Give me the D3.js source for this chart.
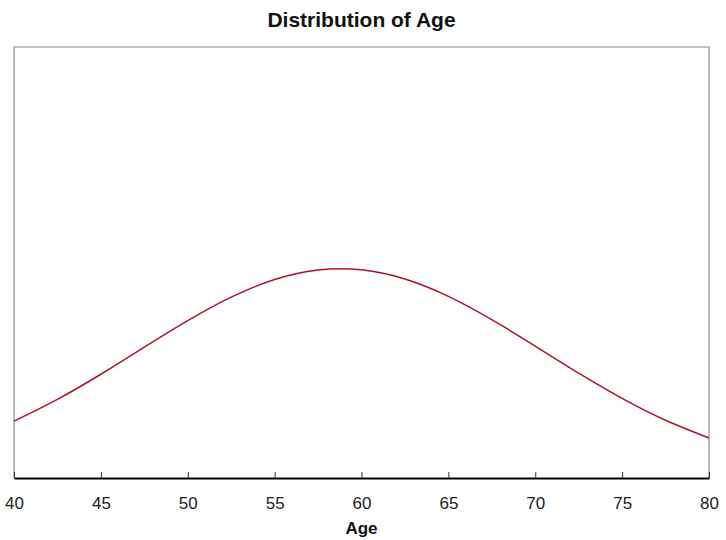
<!DOCTYPE html>
<html>
<head>
<meta charset="utf-8">
<script src="https://cdn.jsdelivr.net/npm/d3@7"></script>
<style>
  html, body { margin: 0; padding: 0; background: #fff; }
  svg { display: block; font-family: "Liberation Sans", Arial, sans-serif; }
</style>
</head>
<body>
<svg id="chart" width="726" height="540"></svg>
<script>
// values
const ages = [40, 42.5, 45, 47.5, 50, 52.5, 55, 57.5, 60, 62.5, 65, 67.5, 70, 72.5, 75, 77.5, 80];
const density = [0.00931, 0.01287, 0.01697, 0.0214, 0.02574, 0.02958, 0.03247, 0.03403, 0.03406,
                 0.03256, 0.02972, 0.02591, 0.02157, 0.01715, 0.01302, 0.00944, 0.00654];
const xTicks = [40, 45, 50, 55, 60, 65, 70, 75, 80];

const width = 726;
const height = 540;
const margin = { top: 47, right: 17, bottom: 62, left: 14 };

const svg = d3.select("#chart");

const x = d3.scaleLinear()
  .domain([40, 80])
  .range([margin.left, width - margin.right]);

const y = d3.scaleLinear()
  .domain([0, 0.0705])
  .range([height - margin.bottom, margin.top]);

// frame (top, left, right in grey)
svg.append("path")
  .attr("d", `M${x(40)},${y(0)}V${y(0.0705)}H${x(80)}V${y(0)}`)
  .attr("fill", "none")
  .attr("stroke", "#8c8c8c")
  .attr("stroke-width", 1.2);

// curve
const line = d3.line()
  .x((d, i) => x(ages[i]))
  .y(d => y(d))
  .curve(d3.curveNatural);

svg.append("path")
  .datum(density)
  .attr("fill", "none")
  .attr("stroke", "#a8142c")
  .attr("stroke-width", 1.5)
  .attr("d", line);

// x axis with inward ticks
const xAxis = svg.append("g")
  .attr("transform", `translate(0,${y(0)})`)
  .call(d3.axisBottom(x).tickValues(xTicks).tickSizeInner(-6).tickSizeOuter(0).tickPadding(19));

xAxis.select(".domain").attr("stroke", "#000").attr("stroke-width", 2);
xAxis.selectAll(".tick line").attr("stroke", "#333").attr("stroke-width", 1);
xAxis.selectAll(".tick text")
  .attr("font-size", 17)
  .attr("fill", "#222")
  .attr("font-family", "'Liberation Sans', Arial, sans-serif");

// axis label
svg.append("text")
  .attr("x", (x(40) + x(80)) / 2)
  .attr("y", 534)
  .attr("text-anchor", "middle")
  .attr("font-size", 17)
  .attr("font-weight", "bold")
  .attr("fill", "#111")
  .text("Age");

// title
svg.append("text")
  .attr("x", (x(40) + x(80)) / 2)
  .attr("y", 27)
  .attr("text-anchor", "middle")
  .attr("font-size", 21)
  .attr("font-weight", "bold")
  .attr("fill", "#111")
  .text("Distribution of Age");
</script>
</body>
</html>
